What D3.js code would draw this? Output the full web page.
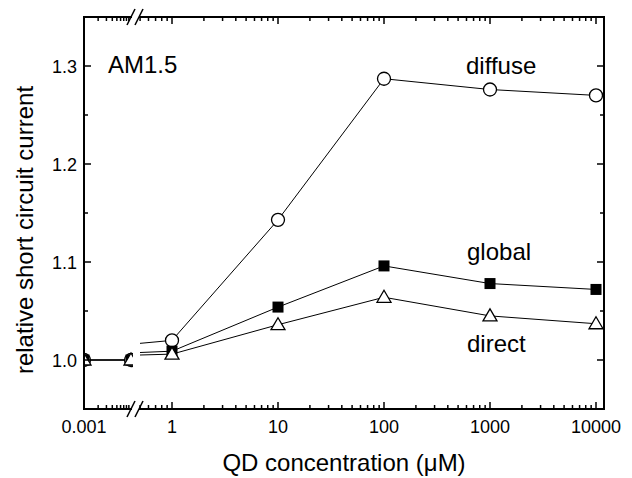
<!DOCTYPE html>
<html>
<head>
<meta charset="utf-8">
<script src="https://cdn.jsdelivr.net/npm/d3@7"></script>
<style>
  body { margin: 0; background: #fff; }
  text { font-family: Arial, "Liberation Sans", sans-serif; fill: #000; }
</style>
</head>
<body>
<div id="chart"></div>
<script>
// concentrations (uM)
const concentrations = [0.001, 0.01, 1, 10, 100, 1000, 10000];
const diffuse = [1.0, 1.0, 1.020, 1.143, 1.287, 1.276, 1.270];
const global = [1.0, 1.0, 1.009, 1.054, 1.096, 1.078, 1.072];
const direct = [1.0, 1.0, 1.006, 1.036, 1.064, 1.045, 1.037];
const yTicks = [1.0, 1.1, 1.2, 1.3];
const xTicksLeft = [0.001];
const xTicksRight = [1, 10, 100, 1000, 10000];

const W = 632, H = 478;
const plot = {left: 84, right: 604, top: 17, bottom: 409};
const brk = {a: 132, b: 139};   // axis gap

const svg = d3.select("#chart").append("svg")
    .attr("width", W).attr("height", H);

const y = d3.scaleLinear().domain([0.95, 1.35]).range([plot.bottom, plot.top]);
// broken log axis: two pieces
const xL = d3.scaleLog().domain([0.001, 0.01]).range([plot.left, 131]);
const xR = d3.scaleLog().domain([1, 10000]).range([172, 596]);

const defs = svg.append("defs");
defs.append("clipPath").attr("id", "clipL").append("rect")
    .attr("x", plot.left).attr("y", plot.top)
    .attr("width", 133 - plot.left).attr("height", plot.bottom - plot.top);
defs.append("clipPath").attr("id", "clipR").append("rect")
    .attr("x", 140).attr("y", plot.top)
    .attr("width", plot.right - 140).attr("height", plot.bottom - plot.top);

const series = [
    {name: "diffuse", values: diffuse, shape: "circle"},
    {name: "global", values: global, shape: "square"},
    {name: "direct", values: direct, shape: "triangle"}
];

function drawPart(x, clipId) {
    const g = svg.append("g").attr("clip-path", `url(#${clipId})`);
    const line = d3.line().x(d => x(d[0])).y(d => y(d[1]));
    series.forEach(s => {
        const pts = concentrations.map((c, i) => [c, s.values[i]]);
        g.append("path").datum(pts)
            .attr("d", line)
            .attr("fill", "none").attr("stroke", "#000").attr("stroke-width", 1);
    });
    series.forEach(s => {
        const pts = concentrations.map((c, i) => [c, s.values[i]]);
        pts.forEach(p => {
            const cx = x(p[0]), cy = y(p[1]);
            if (cx < -50 || cx > W + 50) return;
            if (s.shape === "circle") {
                g.append("circle").attr("cx", cx).attr("cy", cy).attr("r", 6.5)
                    .attr("fill", "#fff").attr("stroke", "#000").attr("stroke-width", 1.3);
            } else if (s.shape === "square") {
                g.append("rect").attr("x", cx - 5.5).attr("y", cy - 5.5)
                    .attr("width", 11).attr("height", 11).attr("fill", "#000");
            } else {
                g.append("path")
                    .attr("d", `M${cx},${cy - 7}L${cx + 7},${cy + 5}L${cx - 7},${cy + 5}Z`)
                    .attr("fill", "#fff").attr("stroke", "#000").attr("stroke-width", 1.3);
            }
        });
    });
}
drawPart(xL, "clipL");
drawPart(xR, "clipR");

// axes frame
const ax = svg.append("g").attr("stroke", "#000").attr("stroke-width", 2).attr("fill", "none");
ax.append("path").attr("d",
    `M${brk.a},${plot.top}H${plot.left}V${plot.bottom}H${brk.a}` +
    `M${brk.b},${plot.bottom}H${plot.right}V${plot.top}H${brk.b}`);

// break marks
[plot.top, plot.bottom].forEach(yy => {
    [0, 8].forEach(off => {
        ax.append("line")
            .attr("x1", 127 + off).attr("y1", yy + 8)
            .attr("x2", 135 + off).attr("y2", yy - 8)
            .attr("stroke-width", 1.6);
    });
});

// x ticks
const tk = svg.append("g").attr("stroke", "#000").attr("stroke-width", 1.5);
function xTick(px, len) {
    tk.append("line").attr("x1", px).attr("x2", px)
        .attr("y1", plot.bottom).attr("y2", plot.bottom - len);
    tk.append("line").attr("x1", px).attr("x2", px)
        .attr("y1", plot.top).attr("y2", plot.top + len);
}
// left piece minors
for (let m = 2; m <= 9; m++) xTick(xL(m * 0.001), 4);
xTicksLeft.forEach(v => xTick(xL(v), 7));
// right piece minors
for (let dec = 0.1; dec < 10000; dec *= 10) {
    for (let m = 2; m <= 9; m++) {
        const v = dec * m, px = xR(v);
        if (px > 140 && px < plot.right) xTick(px, 4);
    }
}
xTicksRight.forEach(v => xTick(xR(v), 7));

// y ticks
d3.range(0, 9).map(i => 0.95 + i * 0.05).forEach(v => {
    const major = yTicks.some(t => Math.abs(t - v) < 1e-6);
    const len = major ? 7 : 4;
    const py = y(v);
    if (py <= plot.top + 1 || py >= plot.bottom - 1) return;
    tk.append("line").attr("x1", plot.left).attr("x2", plot.left + len).attr("y1", py).attr("y2", py);
    tk.append("line").attr("x1", plot.right).attr("x2", plot.right - len).attr("y1", py).attr("y2", py);
});

// tick labels
const lab = svg.append("g").attr("font-size", 18);
yTicks.forEach(v => {
    lab.append("text").attr("x", 77).attr("y", y(v) + 6.5)
        .attr("text-anchor", "end").text(v.toFixed(1));
});
xTicksLeft.forEach(v => {
    lab.append("text").attr("x", xL(v)).attr("y", 433)
        .attr("text-anchor", "middle").text(String(v));
});
xTicksRight.forEach(v => {
    lab.append("text").attr("x", xR(v)).attr("y", 433)
        .attr("text-anchor", "middle").text(String(v));
});

// axis titles
svg.append("text").attr("x", 344).attr("y", 471).attr("text-anchor", "middle")
    .attr("font-size", 24).text("QD concentration (\u03BCM)");
svg.append("text")
    .attr("transform", `translate(33,230) rotate(-90)`)
    .attr("text-anchor", "middle").attr("font-size", 24)
    .text("relative short circuit current");

// annotations
svg.append("text").attr("x", 108).attr("y", 73).attr("font-size", 24).text("AM1.5");
svg.append("text").attr("x", 466).attr("y", 74).attr("font-size", 24).text("diffuse");
svg.append("text").attr("x", 467).attr("y", 260).attr("font-size", 24).text("global");
svg.append("text").attr("x", 467).attr("y", 352).attr("font-size", 24).text("direct");
</script>
</body>
</html>
